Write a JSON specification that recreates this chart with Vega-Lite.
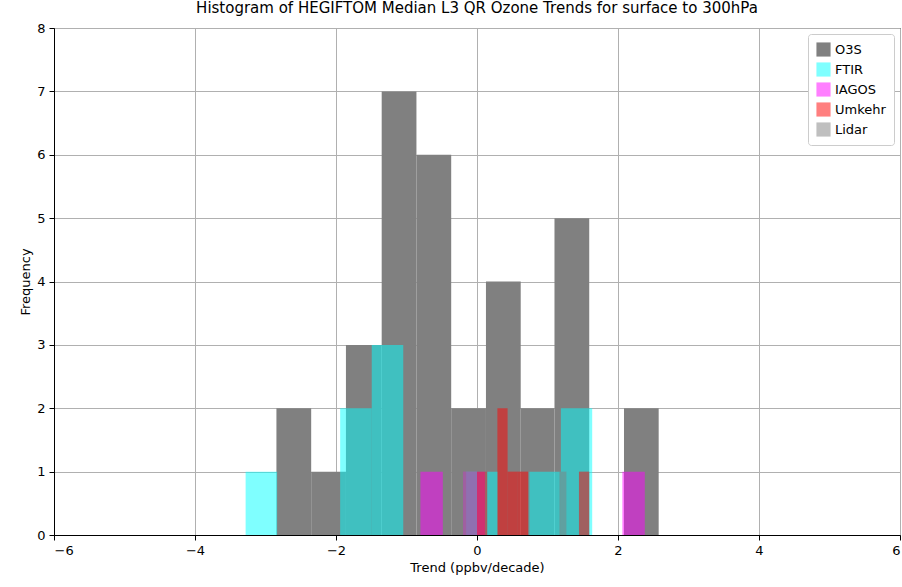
{
  "$schema": "https://vega.github.io/schema/vega-lite/v6.json",
  "width": 846,
  "height": 507,
  "padding": {"left": 54, "top": 28, "right": 2, "bottom": 52},
  "autosize": {"type": "none"},
  "title": {"text": "Histogram of HEGIFTOM Median L3 QR Ozone Trends for surface to 300hPa", "fontSize": 15, "fontWeight": "normal", "font": "DejaVu Sans", "offset": 6},
  "data": {"values": [
    {"series": "O3S", "x0": -2.845, "x1": -2.352, "count": 2},
    {"series": "O3S", "x0": -2.352, "x1": -1.859, "count": 1},
    {"series": "O3S", "x0": -1.859, "x1": -1.352, "count": 3},
    {"series": "O3S", "x0": -1.352, "x1": -0.859, "count": 7},
    {"series": "O3S", "x0": -0.859, "x1": -0.366, "count": 6},
    {"series": "O3S", "x0": -0.366, "x1": 0.127, "count": 2},
    {"series": "O3S", "x0": 0.127, "x1": 0.620, "count": 4},
    {"series": "O3S", "x0": 0.620, "x1": 1.099, "count": 2},
    {"series": "O3S", "x0": 1.099, "x1": 1.592, "count": 5},
    {"series": "O3S", "x0": 2.085, "x1": 2.577, "count": 2},
    {"series": "FTIR", "x0": -3.282, "x1": -2.835, "count": 1},
    {"series": "FTIR", "x0": -1.941, "x1": -1.493, "count": 2},
    {"series": "FTIR", "x0": -1.493, "x1": -1.046, "count": 3},
    {"series": "FTIR", "x0": -0.155, "x1": 0.296, "count": 1},
    {"series": "FTIR", "x0": 0.742, "x1": 1.190, "count": 1},
    {"series": "FTIR", "x0": 1.190, "x1": 1.634, "count": 2},
    {"series": "IAGOS", "x0": -0.803, "x1": -0.485, "count": 1},
    {"series": "IAGOS", "x0": -0.197, "x1": 0.113, "count": 1},
    {"series": "IAGOS", "x0": 2.062, "x1": 2.380, "count": 1},
    {"series": "Umkehr", "x0": 0.0, "x1": 0.145, "count": 1},
    {"series": "Umkehr", "x0": 0.289, "x1": 0.434, "count": 2},
    {"series": "Umkehr", "x0": 0.434, "x1": 0.579, "count": 1},
    {"series": "Umkehr", "x0": 0.579, "x1": 0.724, "count": 1},
    {"series": "Umkehr", "x0": 1.446, "x1": 1.592, "count": 1},
    {"series": "Lidar", "x0": -0.197, "x1": 0.0, "count": 1},
    {"series": "Lidar", "x0": 1.169, "x1": 1.268, "count": 1}
  ]},
  "mark": {"type": "bar", "strokeWidth": 0},
  "encoding": {
    "x": {"field": "x0", "type": "quantitative", "scale": {"domain": [-6, 6], "nice": false},
      "axis": {"values": [-6, -4, -2, 0, 2, 4, 6], "title": "Trend (ppbv/decade)", "labelExpr": "replace(datum.label, '-', '−')"}},
    "x2": {"field": "x1"},
    "y": {"field": "count", "type": "quantitative", "scale": {"domain": [0, 8], "nice": false},
      "axis": {"values": [0, 1, 2, 3, 4, 5, 6, 7, 8], "title": "Frequency"}},
    "y2": {"datum": 0},
    "color": {"field": "series", "type": "nominal",
      "scale": {"domain": ["O3S", "FTIR", "IAGOS", "Umkehr", "Lidar"],
        "range": ["#808080", "rgba(0,255,255,0.5)", "rgba(255,0,255,0.5)", "rgba(255,0,0,0.5)", "rgba(128,128,128,0.5)"]},
      "legend": {"title": null, "orient": "top-right", "symbolType": "square", "symbolSize": 200, "labelFontSize": 13,
        "padding": 8, "strokeColor": "#cccccc", "fillColor": "white", "cornerRadius": 3, "offset": 6, "rowPadding": 5, "symbolStrokeWidth": 0}}
  },
  "config": {
    "font": "DejaVu Sans",
    "view": {"stroke": "black", "strokeWidth": 1},
    "axis": {"gridColor": "#b0b0b0", "gridOpacity": 1, "labelFontSize": 13, "titleFontSize": 13, "titleFontWeight": "normal", "labelColor": "black", "titleColor": "black", "tickColor": "black", "domainColor": "black", "domain": true, "labelPadding": 4}
  }
}
